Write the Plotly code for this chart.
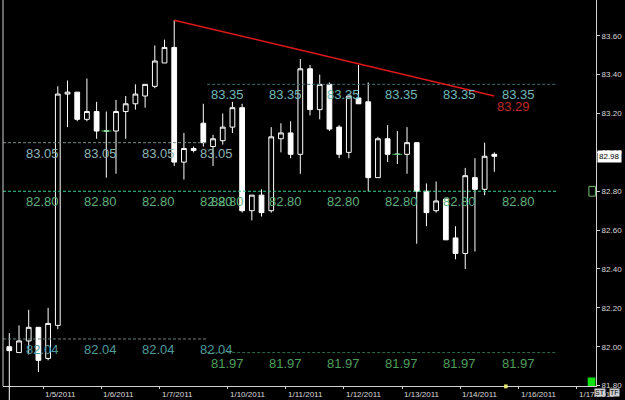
import plotly.graph_objects as go

# ---------------- data (4-hour bars, index positions) ----------------
bar_index = list(range(51))
opens = [82.00, 81.97, 82.03, 82.10, 81.94, 82.11, 83.30, 83.31, 83.17, 83.21,
         83.11, 83.11, 83.21, 83.25, 83.29, 83.34, 83.46, 83.54, 82.95, 83.02,
         83.15, 83.03, 83.06, 83.13, 83.23, 82.70, 82.78, 82.70, 83.07, 83.10,
         82.99, 83.43, 83.22, 83.35, 83.13, 83.00, 83.28, 83.26, 82.87, 83.07,
         82.99, 82.99, 83.05, 82.80, 82.70, 82.76, 82.56, 82.48, 82.87, 82.81,
         82.99]
highs = [82.07, 82.11, 82.19, 82.10, 82.20, 83.34, 83.37, 83.31, 83.38, 83.26,
         83.21, 83.27, 83.29, 83.35, 83.35, 83.55, 83.58, 83.68, 83.10, 83.03,
         83.25, 83.09, 83.20, 83.26, 83.25, 82.78, 82.81, 83.13, 83.15, 83.16,
         83.48, 83.45, 83.40, 83.36, 83.14, 83.29, 83.45, 83.36, 83.08, 83.14,
         83.11, 83.13, 83.05, 82.84, 82.85, 82.76, 82.62, 82.92, 82.97, 83.05,
         83.00]
lows = [81.74, 81.97, 81.96, 81.87, 81.93, 82.09, 83.13, 83.16, 83.16, 83.07,
        82.87, 82.89, 83.07, 83.22, 83.23, 83.33, 83.46, 82.93, 82.86, 83.00,
        83.03, 82.93, 83.04, 83.10, 82.69, 82.65, 82.67, 82.69, 83.00, 82.97,
        82.89, 83.19, 83.17, 83.11, 82.97, 82.97, 83.25, 82.80, 82.87, 82.95,
        82.94, 82.89, 82.53, 82.62, 82.69, 82.55, 82.45, 82.40, 82.49, 82.78,
        82.90]
closes = [81.98, 82.03, 82.10, 81.93, 82.12, 83.30, 83.31, 83.17, 83.21, 83.11,
          83.11, 83.21, 83.25, 83.30, 83.35, 83.47, 83.54, 82.95, 83.02, 83.01,
          83.05, 83.07, 83.13, 83.23, 82.70, 82.78, 82.69, 83.08, 83.10, 82.99,
          83.43, 83.22, 83.35, 83.12, 82.99, 83.29, 83.25, 82.87, 83.07, 82.99,
          82.99, 83.05, 82.80, 82.69, 82.75, 82.55, 82.48, 82.88, 82.81, 82.98,
          82.98]

# day separators (bar index) and their labels
day_ticks = [3.5, 9.5, 15.5, 22.5, 28.5, 34.5, 40.5, 46.5, 52.5, 58.5]
day_labels = ["1/5/2011", "1/6/2011", "1/7/2011", "1/10/2011", "1/11/2011",
              "1/12/2011", "1/13/2011", "1/14/2011", "1/16/2011", "1/17/2011"]

# weekly pivot levels
week1_span = [-0.65, 20.4]
week2_span = [20.4, 56.5]
week1_upper, week1_mid, week1_lower = 83.05, 82.80, 82.04
week2_upper, week2_mid, week2_lower = 83.35, 82.80, 81.97
week1_label_pos = [3.4, 9.4, 15.4, 21.4]
week2_label_pos = [22.45, 28.45, 34.45, 40.45, 46.45, 52.45]

# trendline
trend_x = [17, 50]
trend_y = [83.68, 83.29]

last_price = 82.98
y_ticks = [81.80, 82.00, 82.20, 82.40, 82.60, 82.80, 83.00, 83.20, 83.40, 83.60]

# ---------------- figure ----------------
X_RANGE = [-0.65, 60.48]
Y_RANGE = [81.798, 83.784]
LBL_FONT = "Liberation Sans"

fig = go.Figure()

# pivot lines
def level_line(span, val, color):
    fig.add_trace(go.Scatter(x=span, y=[val, val], mode="lines",
                             line=dict(color=color, width=1, dash="3px,2px"),
                             hoverinfo="skip", showlegend=False))

level_line(week1_span, week1_upper, "#7a8a8a")
level_line(week1_span, week1_lower, "#6a7f7f")
level_line([week1_span[0], week2_span[1]], week1_mid, "#3fcf8f")
level_line(week2_span, week2_upper, "#3f6f6f")
level_line(week2_span, week2_lower, "#2f6a4a")

# candles
fig.add_trace(go.Candlestick(
    x=bar_index, open=opens, high=highs, low=lows, close=closes,
    increasing=dict(line=dict(color="#ffffff", width=1), fillcolor="#000000"),
    decreasing=dict(line=dict(color="#ffffff", width=1), fillcolor="#ffffff"),
    whiskerwidth=0, hoverinfo="skip", showlegend=False))

# doji markers (open == close)
doji_x = [i for i in bar_index if opens[i] == closes[i]]
doji_y = [closes[i] for i in doji_x]
fig.add_trace(go.Scatter(x=doji_x, y=doji_y, mode="markers",
                         marker=dict(symbol="line-ew", size=7,
                                     line=dict(color="#3fbf5f", width=1)),
                         hoverinfo="skip", showlegend=False))

# trendline
fig.add_trace(go.Scatter(x=trend_x, y=trend_y, mode="lines",
                         line=dict(color="#e01818", width=1.5),
                         hoverinfo="skip", showlegend=False))

annotations = []

def level_labels(positions, val, color):
    for p in positions:
        annotations.append(dict(x=p, y=val, xref="x", yref="y", text=f"{val:.2f}",
                                showarrow=False, xanchor="center", yanchor="top",
                                yshift=-1, font=dict(family=LBL_FONT, size=13, color=color)))

level_labels(week1_label_pos, week1_upper, "#8fb4b4")
level_labels(week1_label_pos, week1_mid, "#5faf7a")
level_labels(week1_label_pos, week1_lower, "#4f9a9a")
level_labels(week2_label_pos, week2_upper, "#72b8b8")
level_labels(week2_label_pos, week2_mid, "#5faf7a")
level_labels(week2_label_pos, week2_lower, "#4f9f5a")

# trendline end label
annotations.append(dict(x=trend_x[-1], y=trend_y[-1], xref="x", yref="y",
                        text=f"{trend_y[-1]:.2f}", showarrow=False,
                        xanchor="left", yanchor="top", xshift=1, yshift=-1,
                        font=dict(family=LBL_FONT, size=13, color="#c02828")))

# date labels (left aligned at the day separator)
for t, lab in zip(day_ticks, day_labels):
    annotations.append(dict(x=t, y=0, xref="x", yref="paper", text=lab,
                            showarrow=False, xanchor="left", yanchor="top",
                            xshift=0, yshift=-2,
                            font=dict(family=LBL_FONT, size=8, color="#d8d8d8")))

# last price box
annotations.append(dict(x=1, y=last_price, xref="paper", yref="y",
                        text=f"{last_price:.2f}", showarrow=False,
                        xanchor="left", yanchor="middle", xshift=1,
                        bgcolor="#ffffff", borderpad=1,
                        font=dict(family=LBL_FONT, size=8, color="#000000")))

# ST / TF buttons
annotations.append(dict(x=1, y=0, xref="paper", yref="paper", text="ST",
                        showarrow=False, xanchor="left", yanchor="top",
                        xshift=-2, yshift=-2, bgcolor="#d0d0d0", borderpad=0,
                        font=dict(family=LBL_FONT, size=7, color="#000000")))
annotations.append(dict(x=1, y=0, xref="paper", yref="paper", text="TF",
                        showarrow=False, xanchor="left", yanchor="top",
                        xshift=13, yshift=-2, bgcolor="#d0d0d0", borderpad=0,
                        font=dict(family=LBL_FONT, size=7, color="#000000")))

shapes = []
# left border
shapes.append(dict(type="line", xref="paper", yref="paper", x0=0, x1=0, y0=0, y1=1,
                   line=dict(color="#d0d0d0", width=1)))
# wicks that run below the visible range
for i in bar_index:
    if lows[i] < Y_RANGE[0]:
        shapes.append(dict(type="line", xref="x", yref="paper", x0=i, x1=i,
                           y0=-0.04, y1=0, line=dict(color="#ffffff", width=1)))
# small status markers
shapes.append(dict(type="rect", xref="paper", yref="paper", x0=0.986, x1=0.999,
                   y0=0.0, y1=0.022, fillcolor="#10e010", line=dict(width=0)))
shapes.append(dict(type="rect", xref="paper", yref="paper", x0=0.845, x1=0.851,
                   y0=-0.006, y1=0.004, fillcolor="#e8e870", line=dict(width=0)))
shapes.append(dict(type="rect", xref="paper", yref="y", x0=0.988, x1=0.999,
                   y0=week2_mid - 0.025, y1=week2_mid + 0.025,
                   fillcolor="#000000", line=dict(color="#6fbf6f", width=1)))

fig.update_layout(
    width=625, height=400,
    margin=dict(l=3, r=29, t=0, b=14),
    paper_bgcolor="#000000", plot_bgcolor="#000000",
    showlegend=False, hovermode=False,
    annotations=annotations, shapes=shapes,
    xaxis=dict(range=X_RANGE, showgrid=False, zeroline=False,
               rangeslider=dict(visible=False),
               tickmode="array", tickvals=day_ticks, ticktext=[""] * len(day_ticks),
               ticks="outside", ticklen=2, tickcolor="#d0d0d0",
               showline=True, linecolor="#d0d0d0", linewidth=1),
    yaxis=dict(range=Y_RANGE, side="right", showgrid=False, zeroline=False,
               tickmode="array", tickvals=y_ticks,
               ticktext=[f"{v:.2f}" for v in y_ticks],
               ticks="outside", ticklen=3, tickcolor="#d0d0d0",
               showline=True, linecolor="#d0d0d0", linewidth=1,
               tickfont=dict(family=LBL_FONT, size=8, color="#d8d8d8")),
)

fig.write_html("out.html")
